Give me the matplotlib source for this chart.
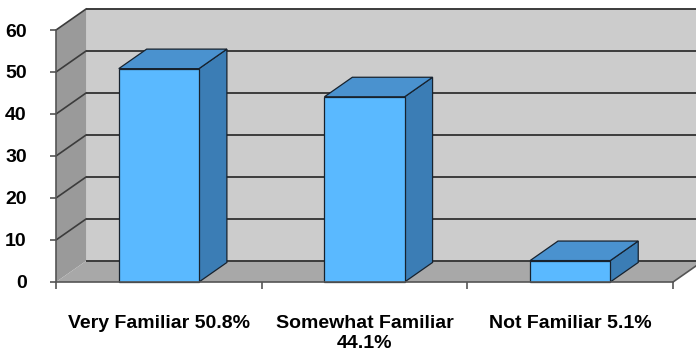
import numpy as np
import matplotlib.pyplot as plt
from matplotlib.patches import Polygon

categories = ['Very Familiar 50.8%', 'Somewhat Familiar\n44.1%', 'Not Familiar 5.1%']
values = [50.8, 44.1, 5.1]
yticks = [0, 10, 20, 30, 40, 50, 60]

# depth of the 3d box, in data units (x: categories, y: value)
DX, DY = 0.146, 5.0
BAR_DEPTH = 0.93
BAR_W = 0.39

plt.rcParams['font.family'] = ['Liberation Sans', 'DejaVu Sans']
plt.rcParams['font.weight'] = 'bold'

fig = plt.figure(figsize=(6.96, 3.58), dpi=100)
ax = fig.add_axes([0.0805, 0.2123, 0.8865, 0.7039])
n = len(values)
top = yticks[-1]
ax.set_xlim(0, n)
ax.set_ylim(0, top)


def face(pts, fc, z, ec='none', lw=0):
    ax.add_patch(Polygon(pts, closed=True, fc=fc, ec=ec, lw=lw, zorder=z,
                         clip_on=False, joinstyle='miter'))


# back wall, side wall, floor
face([(DX, DY), (n + DX, DY), (n + DX, top + DY), (DX, top + DY)], '#cccccc', 0)
face([(0, 0), (DX, DY), (DX, top + DY), (0, top)], '#9a9a9a', 0)
face([(0, 0), (n, 0), (n + DX, DY), (DX, DY)], '#a8a8a8', 0)

for v in yticks:
    ax.plot([DX, n + DX], [v + DY] * 2, color='#3c3c3c', lw=1.4, zorder=1,
            clip_on=False, solid_capstyle='butt')
    if v > 0:
        ax.plot([0, DX], [v, v + DY], color='#3c3c3c', lw=1.2, zorder=1,
                clip_on=False)
ax.plot([n, n + DX], [0, DY], color='#555555', lw=1.2, zorder=1, clip_on=False)

# bars: side, top, front
ddx, ddy = DX * BAR_DEPTH, DY * BAR_DEPTH
edge = '#17222e'
for i, v in enumerate(values):
    x0 = i + 0.5 - BAR_W / 2
    x1 = x0 + BAR_W
    face([(x1, 0), (x1 + ddx, ddy), (x1 + ddx, v + ddy), (x1, v)],
         '#3b7db5', 3, ec=edge, lw=0.9)
    face([(x0, v), (x1, v), (x1 + ddx, v + ddy), (x0 + ddx, v + ddy)],
         '#4a92cf', 3, ec=edge, lw=0.9)
    face([(x0, 0), (x1, 0), (x1, v), (x0, v)], '#5ab9ff', 4, ec=edge, lw=0.9)

for s in ['top', 'right']:
    ax.spines[s].set_visible(False)
for s in ['left', 'bottom']:
    ax.spines[s].set_color('#555555')
    ax.spines[s].set_linewidth(1.2)
    ax.spines[s].set_zorder(5)

ax.set_yticks(yticks)
ax.tick_params(axis='y', length=4, width=1.2, color='#555555', pad=17,
               labelsize=14)
ax.set_xticks([i + 0.5 for i in range(n)], categories)
ax.set_xticks(range(n + 1), minor=True)
ax.tick_params(axis='x', which='major', length=0, pad=24, labelsize=14)
ax.tick_params(axis='x', which='minor', length=5, width=1.2, color='#555555')

fig.savefig('out.png', dpi=100)
